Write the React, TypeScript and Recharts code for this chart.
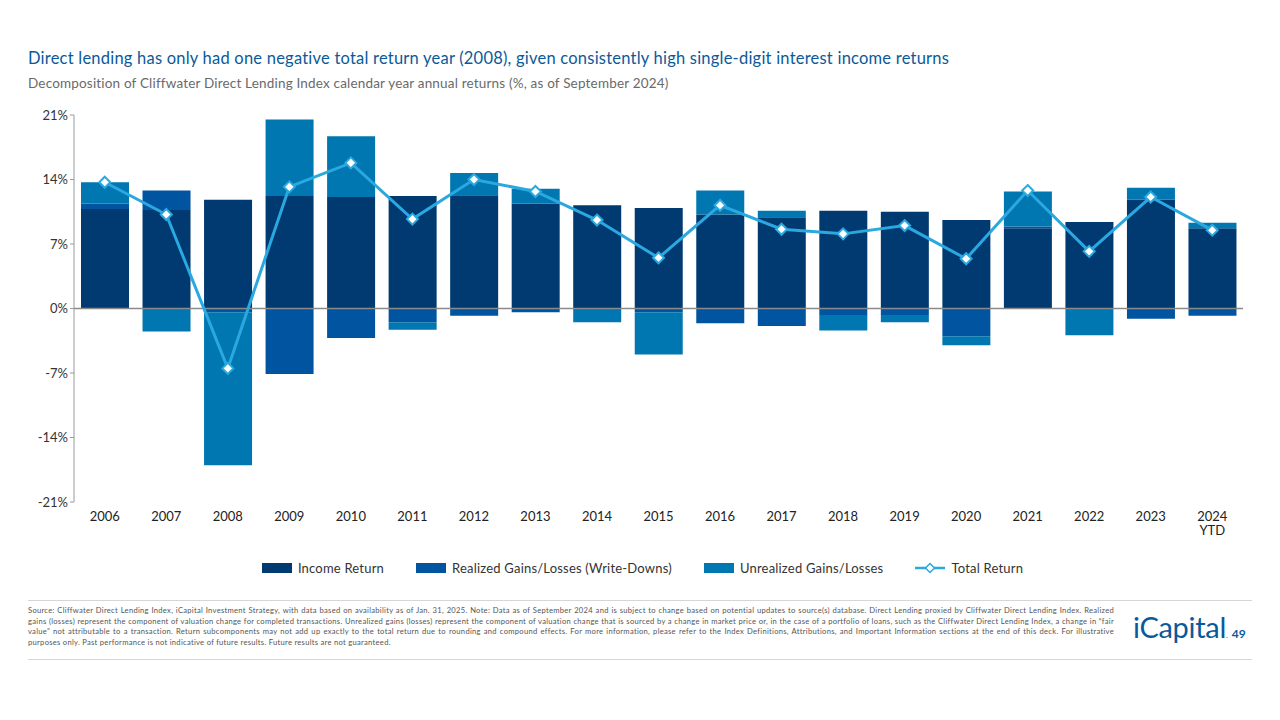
import React from "react";
import {
  ComposedChart,
  Bar,
  Line,
  XAxis,
  YAxis,
  ReferenceLine,
  Legend,
} from "recharts";

const years = [
  "2006", "2007", "2008", "2009", "2010", "2011", "2012", "2013", "2014", "2015",
  "2016", "2017", "2018", "2019", "2020", "2021", "2022", "2023", "2024 YTD",
];
const incomeReturn = [10.8, 10.7, 11.8, 12.2, 12.1, 12.2, 12.3, 11.4, 11.2, 10.9, 10.2, 9.9, 10.6, 10.5, 9.6, 8.7, 9.4, 11.8, 8.7];
const realizedGains = [0.6, 2.1, -0.4, -7.1, -3.2, -1.5, -0.8, -0.4, 0, -0.4, -1.6, -1.9, -0.7, -0.7, -3.0, 0.2, 0, -1.1, -0.8];
const unrealizedGains = [2.3, -2.5, -16.6, 8.3, 6.6, -0.8, 2.4, 1.6, -1.5, -4.6, 2.6, 0.7, -1.7, -0.8, -1.0, 3.8, -2.9, 1.3, 0.6];
const totalReturn = [13.7, 10.2, -6.5, 13.2, 15.8, 9.7, 14.0, 12.7, 9.6, 5.5, 11.2, 8.6, 8.1, 9.0, 5.4, 12.8, 6.2, 12.1, 8.5];
const yTicks = [-21, -14, -7, 0, 7, 14, 21];
const legendOrder = [
  "Income Return",
  "Realized Gains/Losses (Write-Downs)",
  "Unrealized Gains/Losses",
  "Total Return",
];

const data = years.map((year, i) => ({
  year,
  income: incomeReturn[i],
  realized: realizedGains[i],
  unrealized: unrealizedGains[i],
  total: totalReturn[i],
}));

const NAVY = "#003a70";
const MID = "#0054a0";
const TEAL = "#0077b0";
const LIGHT = "#2aa8e0";
const FONT = "Lato, 'Noto Sans', sans-serif";

const YearTick = (props: any) => {
  const { x, y, payload } = props;
  const parts = String(payload.value).split(" ");
  return (
    <text x={x} y={y} textAnchor="middle" fill="#222" fontSize={13} fontFamily={FONT}>
      {parts.map((p: string, i: number) => (
        <tspan key={i} x={x} dy={i === 0 ? 11 : 14}>
          {p}
        </tspan>
      ))}
    </text>
  );
};

const Diamond = (props: any) => {
  const { cx, cy, index } = props;
  if (cx == null || cy == null) return <g key={index} />;
  const r = 5.5;
  return (
    <path
      key={index}
      d={`M${cx},${cy - r} L${cx + r},${cy} L${cx},${cy + r} L${cx - r},${cy} Z`}
      fill="#fff"
      stroke={LIGHT}
      strokeWidth={2}
    />
  );
};

const LegendContent = (props: any) => {
  const items = [...(props.payload || [])].sort(
    (a: any, b: any) => legendOrder.indexOf(a.value) - legendOrder.indexOf(b.value)
  );
  return (
    <div
      style={{
        display: "flex",
        justifyContent: "center",
        alignItems: "center",
        height: 20,
        fontFamily: FONT,
        fontSize: 13,
        letterSpacing: 0.2,
        color: "#333",
        paddingLeft: 74,
      }}
    >
      {items.map((item: any) => (
        <div key={item.value} style={{ display: "flex", alignItems: "center", marginRight: 32 }}>
          {item.type === "line" ? (
            <svg width={30} height={12} style={{ marginRight: 6 }}>
              <line x1={0} y1={6} x2={30} y2={6} stroke={LIGHT} strokeWidth={2.5} />
              <path d="M15,1.5 L19.5,6 L15,10.5 L10.5,6 Z" fill="#fff" stroke={LIGHT} strokeWidth={1.5} />
            </svg>
          ) : (
            <div style={{ width: 30, height: 10, background: item.color, marginRight: 6 }} />
          )}
          <span>{item.value}</span>
        </div>
      ))}
    </div>
  );
};

const footnote =
  "Source: Cliffwater Direct Lending Index, iCapital Investment Strategy, with data based on availability as of Jan. 31, 2025. Note: Data as of September 2024 and is subject to change based on potential updates to source(s) database. Direct Lending proxied by Cliffwater Direct Lending Index. Realized gains (losses) represent the component of valuation change for completed transactions. Unrealized gains (losses) represent the component of valuation change that is sourced by a change in market price or, in the case of a portfolio of loans, such as the Cliffwater Direct Lending Index, a change in \u201cfair value\u201d not attributable to a transaction. Return subcomponents may not add up exactly to the total return due to rounding and compound effects. For more information, please refer to the Index Definitions, Attributions, and Important Information sections at the end of this deck. For illustrative purposes only. Past performance is not indicative of future results. Future results are not guaranteed.";

export default function App() {
  return (
    <div
      style={{
        position: "absolute",
        left: 0,
        top: 0,
        width: 1280,
        height: 720,
        background: "#fff",
        fontFamily: FONT,
        overflow: "hidden",
      }}
    >
      <div style={{ position: "absolute", left: 28, top: 48, fontSize: 16.5, letterSpacing: 0.22, color: "#0a5a9a", whiteSpace: "nowrap" }}>
        Direct lending has only had one negative total return year (2008), given consistently high single-digit interest income returns
      </div>
      <div style={{ position: "absolute", left: 28, top: 75, fontSize: 13.5, letterSpacing: 0.18, color: "#6a6a6a", whiteSpace: "nowrap" }}>
        Decomposition of Cliffwater Direct Lending Index calendar year annual returns (%, as of September 2024)
      </div>

      <div style={{ position: "absolute", left: 0, top: 100 }}>
        <ComposedChart
          width={1280}
          height={490}
          data={data}
          stackOffset="sign"
          barSize={48}
          margin={{ top: 15, right: 37, bottom: 12, left: 0 }}
        >
          <XAxis
            dataKey="year"
            axisLine={false}
            tickLine={false}
            interval={0}
            height={56}
            tick={<YearTick />}
          />
          <YAxis
            domain={[-21, 21]}
            ticks={yTicks}
            width={74}
            tickFormatter={(v: number) => `${v}%`}
            tick={{ fill: "#333", fontSize: 13, fontFamily: FONT }}
            axisLine={{ stroke: "#9a9a9a" }}
            tickLine={{ stroke: "#9a9a9a" }}
            tickSize={4}
          />
          <Legend verticalAlign="bottom" content={<LegendContent />} />
          <Bar dataKey="income" name="Income Return" stackId="a" fill={NAVY} isAnimationActive={false} />
          <Bar dataKey="realized" name="Realized Gains/Losses (Write-Downs)" stackId="a" fill={MID} isAnimationActive={false} />
          <Bar dataKey="unrealized" name="Unrealized Gains/Losses" stackId="a" fill={TEAL} isAnimationActive={false} />
          <ReferenceLine y={0} stroke="#8a8a8a" strokeWidth={1.5} />
          <Line
            type="linear"
            dataKey="total"
            name="Total Return"
            stroke={LIGHT}
            strokeWidth={3}
            dot={<Diamond />}
            activeDot={false}
            legendType="line"
            isAnimationActive={false}
          />
        </ComposedChart>
      </div>

      <div style={{ position: "absolute", left: 28, top: 600, width: 1224, height: 1, background: "#d6d6d6" }} />
      <div
        style={{
          position: "absolute",
          left: 28,
          top: 605,
          width: 1086,
          fontSize: 7.6,
          letterSpacing: 0.28,
          lineHeight: "10.6px",
          color: "#555",
          textAlign: "justify",
        }}
      >
        {footnote}
      </div>
      <div style={{ position: "absolute", left: 1133, top: 609, color: "#0a5a9a", whiteSpace: "nowrap" }}>
        <span style={{ fontSize: 29, letterSpacing: -0.3 }}>iCapital</span>
        <span style={{ fontSize: 8 }}>.</span>
        <span style={{ fontSize: 12, fontWeight: 700, marginLeft: 4 }}>49</span>
      </div>
      <div style={{ position: "absolute", left: 28, top: 659, width: 1224, height: 1, background: "#d6d6d6" }} />
    </div>
  );
}
